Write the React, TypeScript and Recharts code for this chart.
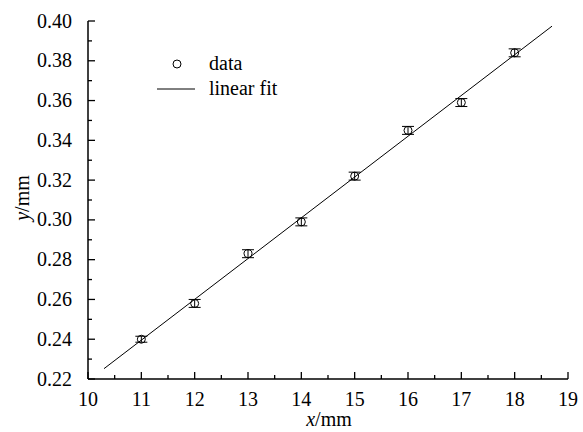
import React from 'react';
import { ScatterChart, Scatter, XAxis, YAxis, ErrorBar } from 'recharts';

const xValues = [11, 12, 13, 14, 15, 16, 17, 18];
const yValues = [0.240, 0.258, 0.283, 0.299, 0.322, 0.345, 0.359, 0.384];
const yErrors = [0.0015, 0.002, 0.002, 0.002, 0.002, 0.002, 0.002, 0.002];

const fitX = [10.3, 18.7];
const fitY = [0.2252, 0.3974];

const xTicks = [10, 10.5, 11, 11.5, 12, 12.5, 13, 13.5, 14, 14.5, 15, 15.5, 16, 16.5, 17, 17.5, 18, 18.5, 19];
const xTickLabels = ['10', '', '11', '', '12', '', '13', '', '14', '', '15', '', '16', '', '17', '', '18', '', '19'];
const yTicks = [0.22, 0.23, 0.24, 0.25, 0.26, 0.27, 0.28, 0.29, 0.30, 0.31, 0.32, 0.33, 0.34, 0.35, 0.36, 0.37, 0.38, 0.39, 0.40];
const yTickLabels = ['0.22', '', '0.24', '', '0.26', '', '0.28', '', '0.30', '', '0.32', '', '0.34', '', '0.36', '', '0.38', '', '0.40'];

const legendLabels = ['data', 'linear fit'];

const data = xValues.map((x, i) => ({ x, y: yValues[i], err: yErrors[i] }));
const fitData = fitX.map((x, i) => ({ x, y: fitY[i] }));

const FONT = 'Times New Roman, Liberation Serif, serif';
const FS = 20;

const T = (props: any) => (
  <text fontFamily={FONT} fontSize={FS} fill="#000" {...props} />
);

const XTick = (props: any) => {
  const { x, y, index } = props;
  const label = xTickLabels[index];
  const major = label !== '';
  return (
    <g>
      <line x1={x} x2={x} y1={y} y2={y - (major ? 7 : 4)} stroke="#000" strokeWidth={1.3} />
      {major && (
        <T x={x} y={y + 27} textAnchor="middle">{label}</T>
      )}
    </g>
  );
};

const YTick = (props: any) => {
  const { x, y, index } = props;
  const label = yTickLabels[index];
  const major = label !== '';
  return (
    <g>
      <line x1={x} x2={x + (major ? 7 : 4)} y1={y} y2={y} stroke="#000" strokeWidth={1.3} />
      {major && (
        <T x={x - 16} y={y + 6.5} textAnchor="end">{label}</T>
      )}
    </g>
  );
};

const Circle = (props: any) => {
  const { cx, cy } = props;
  return <circle cx={cx} cy={cy} r={4} fill="none" stroke="#000" strokeWidth={1} />;
};

const NoShape = () => <g />;

const XLabel = () => (
  <g>
    <T x={329} y={426} textAnchor="middle">
      <tspan fontStyle="italic">x</tspan>/mm
    </T>
    <circle cx={177} cy={64} r={4} fill="none" stroke="#000" strokeWidth={1} />
    <T x={209} y={70}>{legendLabels[0]}</T>
    <line x1={157} x2={195} y1={89} y2={89} stroke="#000" strokeWidth={1} />
    <T x={209} y={95}>{legendLabels[1]}</T>
  </g>
);

const YLabel = () => (
  <T x={0} y={0} transform="translate(29, 198) rotate(-90)" textAnchor="middle">
    <tspan fontStyle="italic">y</tspan>/mm
  </T>
);

export default function App() {
  return (
    <div style={{ position: 'absolute', left: 0, top: 0, width: 583, height: 432, background: '#fff' }}>
      <ScatterChart width={583} height={432} margin={{ top: 21, right: 15, bottom: 0, left: 0 }}>
        <XAxis
          type="number"
          dataKey="x"
          domain={[10, 19]}
          ticks={xTicks}
          interval={0}
          allowDataOverflow
          height={53}
          tickSize={0}
          tickMargin={0}
          tickLine={false}
          axisLine={{ stroke: '#000', strokeWidth: 1.5 }}
          tick={<XTick />}
          label={<XLabel />}
        />
        <YAxis
          type="number"
          dataKey="y"
          domain={[0.22, 0.4]}
          ticks={yTicks}
          interval={0}
          allowDataOverflow
          width={88}
          tickSize={0}
          tickMargin={0}
          tickLine={false}
          axisLine={{ stroke: '#000', strokeWidth: 1.5 }}
          tick={<YTick />}
          label={<YLabel />}
        />
        <Scatter
          data={fitData}
          line={{ stroke: '#000', strokeWidth: 1 }}
          shape={<NoShape />}
          isAnimationActive={false}
          legendType="none"
        />
        <Scatter data={data} shape={<Circle />} isAnimationActive={false}>
          <ErrorBar dataKey="err" direction="y" width={6} stroke="#000" strokeWidth={1} />
        </Scatter>
      </ScatterChart>
    </div>
  );
}
